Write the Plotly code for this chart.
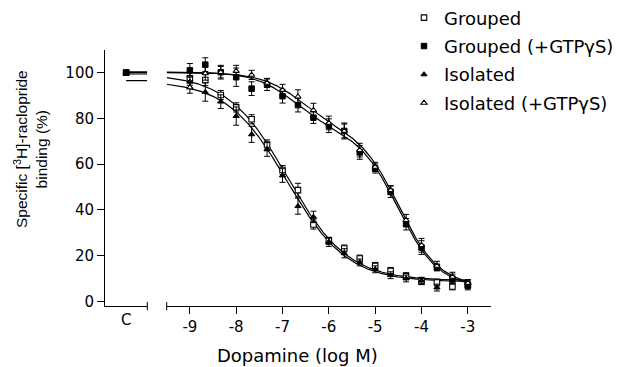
import numpy as np
import plotly.graph_objects as go

# ---------------- data ----------------
log_dose = [-9, -8.667, -8.333, -8, -7.667, -7.333, -7, -6.667, -6.333, -6,
            -5.667, -5.333, -5, -4.667, -4.333, -4, -3.667, -3.333, -3]

grouped = [97.5, 96.8, 90.2, 84.8, 79.6, 68.6, 57.4, 48.6, 33.6, 26.4,
           23.1, 18.7, 15.5, 13.3, 11.0, 8.8, 8.2, 6.5, 7.0]
grouped_err = [3, 2.5, 2, 2, 2, 2, 2, 3, 2, 1.5, 1.5, 1.5, 1.5, 1.5, 1.5, 1.5, 1.5, 1.5, 1.5]

grouped_gtp = [101.0, 103.5, 100.2, 98.0, 93.0, 94.7, 89.7, 85.8, 80.3, 76.8,
               74.5, 65.1, 58.1, 47.9, 33.7, 23.5, 14.8, 9.9, 7.0]
grouped_gtp_err = [3, 3, 3, 4, 3, 2.5, 3, 3, 2.5, 3, 3.5, 3, 2, 2.5, 2.5, 3, 1.5, 2, 2]

isolated = [96.0, 91.5, 87.3, 81.0, 73.0, 66.4, 55.0, 41.6, 36.9, 26.0,
            21.0, 17.0, 14.0, 11.4, 10.0, 9.0, 6.0, 9.0, 8.0]
isolated_err = [2.5, 4, 3, 4, 3.5, 3, 3, 3.5, 2.5, 2, 2, 1.5, 1.5, 1.5, 1.5, 1.5, 1.5, 1.5, 1.5]

isolated_gtp = [93.5, 99.7, 100.2, 100.7, 99.0, 95.5, 92.4, 89.5, 83.6, 78.0,
                74.5, 66.1, 58.8, 48.6, 35.5, 24.5, 15.5, 10.7, 8.0]
isolated_gtp_err = [2.5, 3, 2.5, 2.5, 2, 2, 2.5, 3, 3, 3, 3, 3, 2, 2, 2.5, 3, 2, 2, 1.5]

control_values = [100, 100, 100, 100]   # C (control) for each series

series_names = ["Grouped", "Grouped (+GTPγS)", "Isolated", "Isolated (+GTPγS)"]
x_ticks = [-9, -8, -7, -6, -5, -4, -3]
y_ticks = [0, 20, 40, 60, 80, 100]

# fitted curve parameters
# one-site, variable slope: [top, bottom, logEC50, hill]
fit_grouped = [99.4, 9.0, -6.89, 0.67]
fit_isolated = [96.5, 8.5, -6.90, 0.67]
# two-site: [top, bottom, fraction_high, logKi_high, logKi_low]
fit_grouped_gtp = [100.3, 6.0, 0.27, -6.75, -4.50]
fit_isolated_gtp = [100.0, 6.5, 0.26, -6.60, -4.48]
curve_range = [-9.5, -3.0]


def one_site(x, p):
    top, bot, c, h = p
    return bot + (top - bot) / (1 + 10 ** ((x - c) * h))


def two_site(x, p):
    top, bot, f, hi, lo = p
    return bot + (top - bot) * (f / (1 + 10 ** (x - hi)) + (1 - f) / (1 + 10 ** (x - lo)))


xc = np.linspace(curve_range[0], curve_range[1], 300)

FONT_H = "DejaVu Sans"
FONT_V = "Liberation Sans"

fig = go.Figure()

curves = [(one_site, fit_grouped), (two_site, fit_grouped_gtp),
          (one_site, fit_isolated), (two_site, fit_isolated_gtp)]
for fn, p in curves:
    fig.add_trace(go.Scatter(x=xc, y=fn(xc, p), mode="lines",
                             line=dict(color="black", width=1.2),
                             showlegend=False, hoverinfo="skip",
                             xaxis="x", yaxis="y"))
    # plateau carried into the control segment
    fig.add_trace(go.Scatter(x=[0, 1], y=[p[0], p[0]], mode="lines",
                             line=dict(color="black", width=1.2),
                             showlegend=False, hoverinfo="skip",
                             xaxis="x2", yaxis="y"))

styles = [
    dict(symbol="square", color="white", line=dict(color="black", width=1.1), size=5.5),
    dict(symbol="square", color="black", line=dict(color="black", width=1), size=5.5),
    dict(symbol="triangle-up", color="black", line=dict(color="black", width=1), size=5.5),
    dict(symbol="triangle-up", color="white", line=dict(color="black", width=1.1), size=5.5),
]
values = [grouped, grouped_gtp, isolated, isolated_gtp]
errors = [grouped_err, grouped_gtp_err, isolated_err, isolated_gtp_err]

# control markers (filled square drawn last so it sits on top)
for i in [3, 2, 0, 1]:
    fig.add_trace(go.Scatter(x=[0], y=[control_values[i]], mode="markers",
                             marker=styles[i], showlegend=False,
                             xaxis="x2", yaxis="y"))

for i in range(4):
    fig.add_trace(go.Scatter(
        x=log_dose, y=values[i], mode="markers", name=series_names[i],
        legendgroup=series_names[i],
        marker=styles[i],
        error_y=dict(type="data", array=errors[i], color="black",
                     thickness=1, width=3),
        xaxis="x", yaxis="y"))

W, H = 625, 367
L, R, T, B = 105, 134, 50, 61.3
pw, ph = W - L - R, H - T - B


def px_x(px):
    return (px - L) / pw


def px_y(py):
    return (H - B - py) / ph


axis_common = dict(showgrid=False, zeroline=False, showline=True,
                   linecolor="black", linewidth=1, ticks="outside",
                   ticklen=7, tickwidth=1, tickcolor="black",
                   tickfont=dict(family=FONT_H, size=15, color="black"))

fig.update_layout(
    width=W, height=H,
    margin=dict(l=L, r=R, t=T, b=B, pad=0, autoexpand=False),
    paper_bgcolor="white", plot_bgcolor="white",
    xaxis=dict(domain=[px_x(166.7), 1], range=[-9.5, -2.5],
               tickvals=x_ticks, ticktext=[str(v) for v in x_ticks],
               anchor="y", **axis_common),
    xaxis2=dict(domain=[0, px_x(147.3)], range=[-1, 1],
                tickvals=[0], ticktext=["C"], anchor="y",
                **{**axis_common, "ticks": ""}),
    yaxis=dict(range=[-2.06, 109.9], tickvals=y_ticks, anchor="x2",
               **axis_common),
    legend=dict(x=px_x(404), y=px_y(-0.5), xanchor="left", yanchor="top",
                font=dict(family=FONT_H, size=18, color="black"),
                bgcolor="rgba(0,0,0,0)", tracegroupgap=2,
                itemclick=False),
    showlegend=True,
)

# axis break marks
for xref, xv in [("x2 domain", 1), ("x domain", 0)]:
    fig.add_shape(type="line", xref=xref, yref="paper", x0=xv, x1=xv,
                  y0=px_y(301.7), y1=px_y(310),
                  line=dict(color="black", width=1))

fig.add_annotation(text="Dopamine (log M)", xref="paper", yref="paper",
                   x=px_x(297), y=px_y(355), showarrow=False,
                   xanchor="center", yanchor="middle",
                   font=dict(family=FONT_H, size=18, color="black"))
fig.add_annotation(text="Specific [<sup>3</sup>H]-raclopride<br>binding (%)",
                   xref="paper", yref="paper", x=px_x(30.4), y=px_y(148.5),
                   textangle=-90, showarrow=False,
                   xanchor="center", yanchor="middle",
                   font=dict(family=FONT_V, size=15.5, color="black"))

fig.write_html("out.html")
